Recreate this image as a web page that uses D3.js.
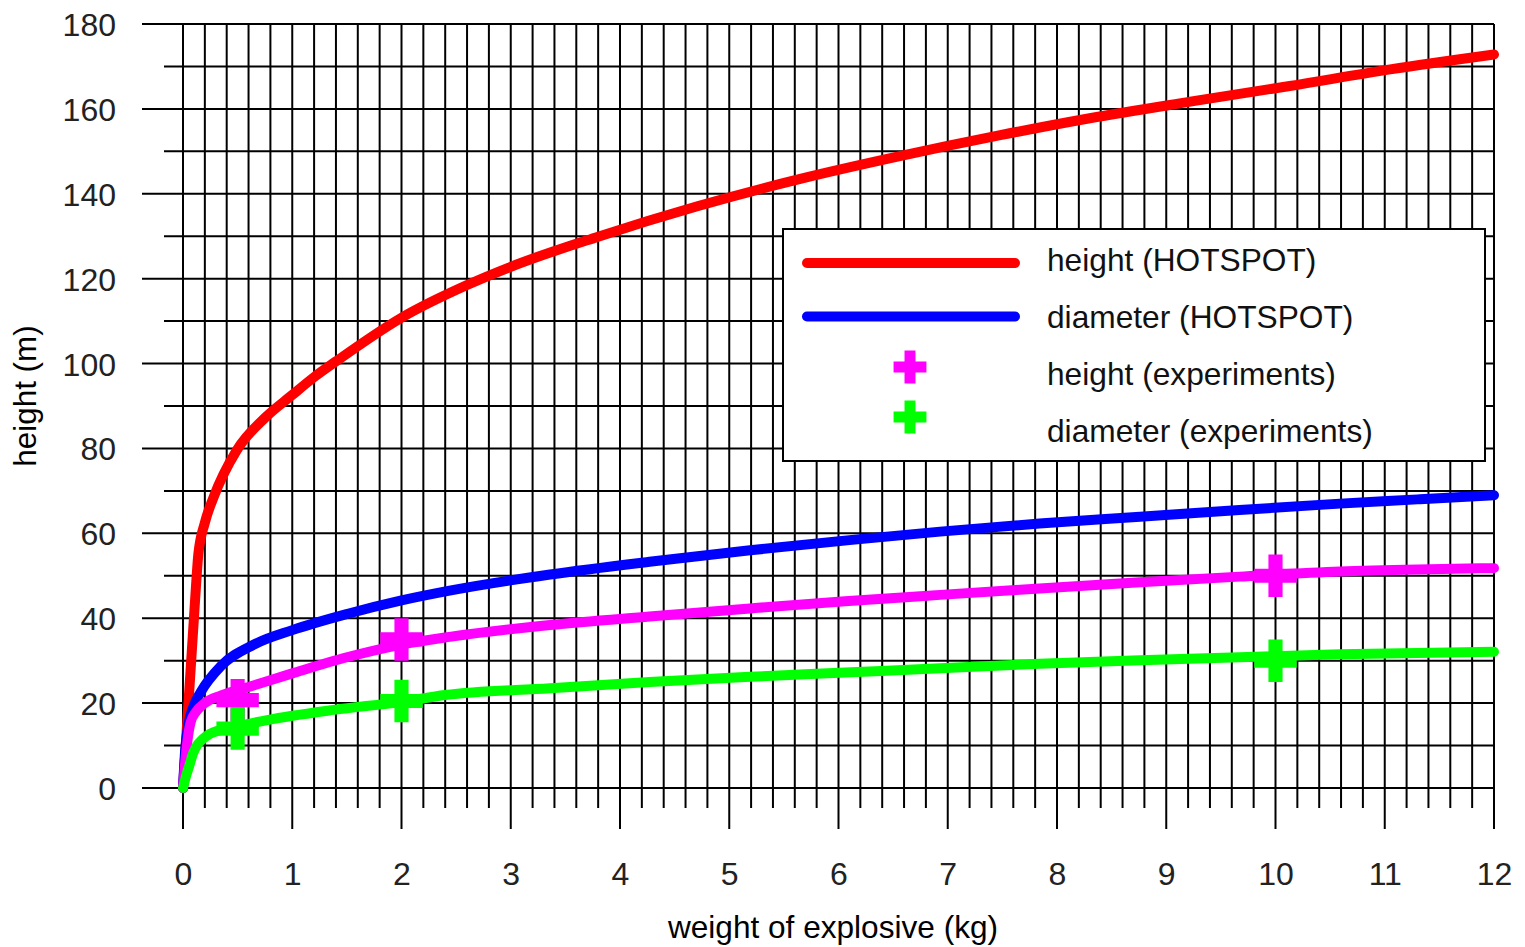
<!DOCTYPE html>
<html>
<head>
<meta charset="utf-8">
<script src="https://cdn.jsdelivr.net/npm/d3@7"></script>
<style>
  html, body { margin: 0; padding: 0; background: #fff; }
  svg { display: block; }
</style>
</head>
<body>
<svg id="chart" width="1525" height="947"></svg>
<script>
// ---- data ----
const xTicks = [0,1,2,3,4,5,6,7,8,9,10,11,12];
const yTicks = [0,20,40,60,80,100,120,140,160,180];

const heightHotspot = [
  [0,0],[0.02,8],[0.05,20],[0.08,32],[0.1,40],[0.12,48],[0.14,55],[0.2,62.5],
  [0.28,68.5],[0.49,79.5],[0.75,87.2],[1.0,92.6],[1.2,96.8],[1.4,100.5],[2.0,110.8],
  [2.6,118.5],[3.0,122.8],[3.8,129.9],[4.7,137],[5.65,143.5],[6.55,148.8],
  [7.48,153.8],[8.3,157.8],[9.22,161.7],[10.13,165.4],[11.05,169.3],[12,172.8]
];
const diameterHotspot = [
  [0,0],[0.02,9],[0.05,15],[0.1,19.5],[0.16,22.5],[0.35,28.8],[0.65,33.8],
  [1.0,37.2],[1.5,41],[2.0,44.2],[2.44,46.5],[3.36,50.3],[4.27,53.3],[5.19,56],
  [6.1,58.4],[6.93,60.4],[7.84,62.3],[8.76,63.9],[9.67,65.5],[10.59,67],
  [11.3,68],[12,69]
];
const heightFit = [
  [0,0],[0.02,6],[0.04,11],[0.07,15.5],[0.12,18],[0.2,20],[0.35,21.8],[0.6,23.8],
  [1.0,27],[1.5,30.8],[2.0,33.8],[2.44,35.6],[3.36,38.4],[4.27,40.4],[5.19,42.3],
  [6.06,44],[6.93,45.5],[7.84,47],[8.76,48.5],[9.67,49.8],[10.59,51],[11.3,51.5],[12,51.8]
];
const diameterFit = [
  [0,0],[0.03,3],[0.06,5.5],[0.09,8],[0.12,9.7],[0.18,11.5],[0.25,12.8],[0.46,14.3],
  [0.77,16],[1.38,18.4],[2.0,20.3],[2.4,21.9],[3.36,23.5],[4.27,25],[5.19,26.2],
  [6.06,27.2],[6.93,28.2],[7.84,29.3],[8.76,30.1],[9.67,30.8],[10.59,31.5],[12,32.1]
];
const heightExp = [[0.5,20.7],[2,35],[10,50]];
const diameterExp = [[0.5,14],[2,20.5],[10,30]];

const legendLabels = ["height (HOTSPOT)","diameter (HOTSPOT)","height (experiments)","diameter (experiments)"];
const colors = ["#ff0000","#0000ff","#ff00ff","#00ff00"];

// ---- drawing ----
const svg = d3.select("#chart");
const x = d3.scaleLinear().domain([0,12]).range([183,1494]);
const y = d3.scaleLinear().domain([0,180]).range([788,24]);

const font = "'Liberation Sans', Arial, sans-serif";

// grid
const grid = svg.append("g").attr("stroke","#000").attr("stroke-width",2);
const vLines = d3.range(0, 61).map(i => ({v: i/5, major: i % 5 === 0}));
grid.selectAll("line.v").data(vLines).join("line")
  .attr("class","v")
  .attr("x1", d => x(d.v)).attr("x2", d => x(d.v))
  .attr("y1", y(180)).attr("y2", d => d.major ? 829 : 808);
const hLines = d3.range(0, 19).map(i => ({v: i*10, major: i % 2 === 0}));
grid.selectAll("line.h").data(hLines).join("line")
  .attr("class","h")
  .attr("x1", d => d.major ? 142 : 164).attr("x2", x(12))
  .attr("y1", d => y(d.v)).attr("y2", d => y(d.v));

// axes labels
const yAxis = svg.append("g").attr("transform","translate(116,0)")
  .call(d3.axisLeft(y).tickValues(yTicks).tickSize(0).tickPadding(0));
yAxis.select(".domain").remove();
yAxis.attr("font-family", font).attr("font-size", 32);
yAxis.selectAll("text").attr("fill","#222").attr("dy","0.36em");

const xAxis = svg.append("g").attr("transform","translate(0,862)")
  .call(d3.axisBottom(x).tickValues(xTicks).tickSize(0).tickPadding(0));
xAxis.select(".domain").remove();
xAxis.attr("font-family", font).attr("font-size", 32);
xAxis.selectAll("text").attr("fill","#222");

svg.append("text").attr("x", 833).attr("y", 938)
  .attr("text-anchor","middle").attr("font-family", font).attr("font-size", 31.6)
  .text("weight of explosive (kg)");
svg.append("text").attr("transform","translate(36,396) rotate(-90)")
  .attr("text-anchor","middle").attr("font-family", font).attr("font-size", 31.4)
  .text("height (m)");

// legend
const lg = svg.append("g");
lg.append("rect").attr("x",783).attr("y",229).attr("width",702).attr("height",232)
  .attr("fill","#fff").attr("stroke","#000").attr("stroke-width",2);
const rowY = [263, 316.5, 367, 417];
const textY = [271, 328, 385, 442];
[0,1].forEach(i => {
  lg.append("line").attr("x1",807).attr("x2",1015).attr("y1",rowY[i]).attr("y2",rowY[i])
    .attr("stroke",colors[i]).attr("stroke-width",10).attr("stroke-linecap","round");
});
[2,3].forEach(i => {
  lg.append("path").attr("d", d3.symbol(d3.symbolCross, 600)())
    .attr("transform",`translate(910,${rowY[i]})`).attr("fill",colors[i]);
});
legendLabels.forEach((t,i) => {
  lg.append("text").attr("x",1047).attr("y",textY[i])
    .attr("font-family", font).attr("font-size", 31.7).attr("fill","#111").text(t);
});

// curves
const line = d3.line().x(d => x(d[0])).y(d => y(d[1])).curve(d3.curveMonotoneX);
const series = [heightHotspot, diameterHotspot, heightFit, diameterFit];
series.forEach((s,i) => {
  svg.append("path").datum(s).attr("d", line)
    .attr("fill","none").attr("stroke",colors[i]).attr("stroke-width",10)
    .attr("stroke-linecap","round").attr("stroke-linejoin","round");
  if (i === 2 || i === 3) {
    const pts = i === 2 ? heightExp : diameterExp;
    svg.append("g").selectAll("path").data(pts).join("path")
      .attr("d", d3.symbol(d3.symbolCross, 1000)())
      .attr("transform", d => `translate(${x(d[0])},${y(d[1])})`)
      .attr("fill", colors[i]);
  }
});
</script>
</body>
</html>
